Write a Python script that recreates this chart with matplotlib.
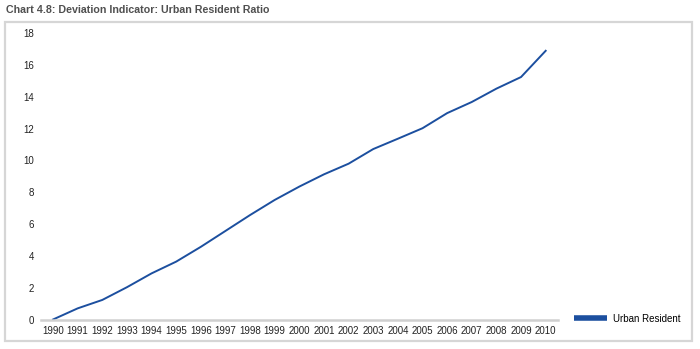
import matplotlib
matplotlib.use("Agg")
from matplotlib import pyplot as plt
from matplotlib.lines import Line2D
from matplotlib.patches import Rectangle

years = list(range(1990, 2011))
urban_resident = [0.0, 0.7, 1.23, 2.03, 2.9, 3.64, 4.57, 5.57, 6.57, 7.52, 8.36,
                  9.13, 9.8, 10.72, 11.37, 12.03, 12.98, 13.68, 14.52, 15.25, 16.9]
y_ticks = [0, 2, 4, 6, 8, 10, 12, 14, 16, 18]
title = 'Chart 4.8: Deviation Indicator: Urban Resident Ratio'
series_name = 'Urban Resident'

LINE_COLOR = '#1c4f9f'
FONT = ['Liberation Sans Narrow', 'Liberation Sans', 'DejaVu Sans']


def main():
    plt.rcParams['font.family'] = FONT
    fig = plt.figure(figsize=(7.0, 3.49), dpi=100)

    # outer frame
    fig.patches.append(Rectangle((5 / 700, 1 - 341 / 349), 687 / 700, 319.5 / 349,
                                 transform=fig.transFigure, fill=False,
                                 edgecolor='#d6d6d6', lw=1.6))
    fig.text(6 / 700, 1 - 10 / 349, title, ha='left', va='center',
             fontsize=7.7, fontweight='bold', color='#505050',
             family=['Liberation Sans', 'DejaVu Sans'])

    ax = fig.add_axes([40.7 / 700, 1 - 319.5 / 349, 517.3 / 700, 286.2 / 349])
    ax.plot(years, urban_resident, color=LINE_COLOR, lw=1.4)
    ax.set_xlim(1989.5, 2010.5)
    ax.set_ylim(0, 18)
    ax.set_xticks(years)
    ax.set_xticklabels([str(y) for y in years], fontsize=7)
    ax.set_yticks(y_ticks)
    ax.set_yticklabels([str(v) for v in y_ticks], fontsize=7)
    ax.tick_params(length=0, pad=5, colors='#222222')
    for side in ['left', 'right', 'top']:
        ax.spines[side].set_visible(False)
    ax.spines['bottom'].set_color('#d0d0d0')
    ax.spines['bottom'].set_linewidth(1.8)
    ax.patch.set_alpha(0)

    handle = Line2D([0], [0], color=LINE_COLOR, lw=4, solid_capstyle='butt')
    fig.legend([handle], [series_name], loc='center left',
               bbox_to_anchor=(574 / 700, 1 - 318.5 / 349), frameon=False,
               fontsize=7, handlelength=3.4, handletextpad=0.6,
               borderpad=0, borderaxespad=0)

    fig.savefig('out.png', dpi=100)


if __name__ == '__main__':
    main()
